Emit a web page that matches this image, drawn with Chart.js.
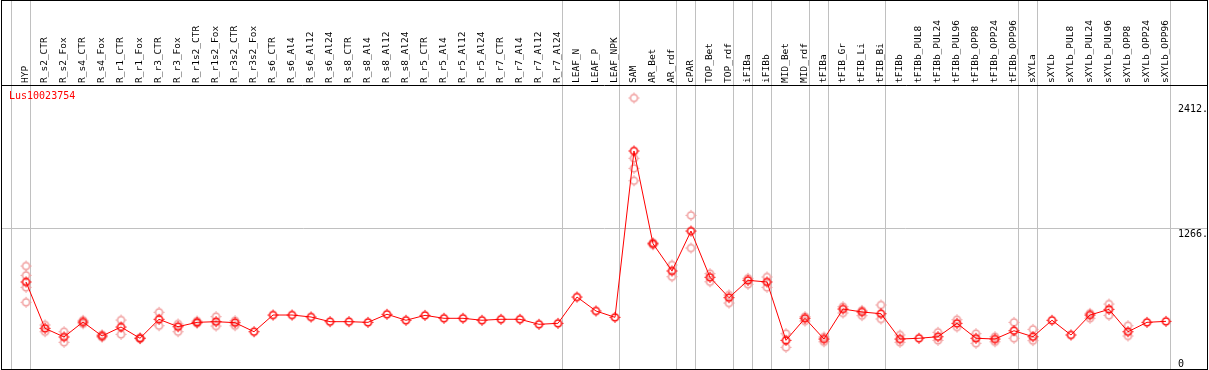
<!DOCTYPE html>
<html>
<head>
<meta charset="utf-8">
<script src="https://cdn.jsdelivr.net/npm/chart.js@4/dist/chart.umd.min.js"></script>
<style>
  html, body { margin: 0; padding: 0; background: #fff; }
  #wrap { width: 1209px; height: 370px; position: relative; }
</style>
</head>
<body>
<div id="wrap"><canvas id="chart"></canvas></div>
<script>
// Data
const geneName = "Lus10023754";

const categories = [
    "HYP",
    "R_s2_CTR", "R_s2_Fox", "R_s4_CTR", "R_s4_Fox", "R_r1_CTR", "R_r1_Fox", "R_r3_CTR", "R_r3_Fox",
    "R_r1s2_CTR", "R_r1s2_Fox", "R_r3s2_CTR", "R_r3s2_Fox",
    "R_s6_CTR", "R_s6_Al4", "R_s6_Al12", "R_s6_Al24", "R_s8_CTR", "R_s8_Al4", "R_s8_Al12", "R_s8_Al24",
    "R_r5_CTR", "R_r5_Al4", "R_r5_Al12", "R_r5_Al24", "R_r7_CTR", "R_r7_Al4", "R_r7_Al12", "R_r7_Al24",
    "LEAF_N", "LEAF_P", "LEAF_NPK",
    "SAM", "AR_Bet", "AR_rdf", "cPAR", "TOP_Bet", "TOP_rdf", "iFIBa", "iFIBb", "MID_Bet", "MID_rdf",
    "tFIBa", "tFIB_Gr", "tFIB_Li", "tFIB_Bi",
    "tFIBb", "tFIBb_PUL8", "tFIBb_PUL24", "tFIBb_PUL96", "tFIBb_OPP8", "tFIBb_OPP24", "tFIBb_OPP96",
    "sXYLa", "sXYLb", "sXYLb_PUL8", "sXYLb_PUL24", "sXYLb_PUL96", "sXYLb_OPP8", "sXYLb_OPP24", "sXYLb_OPP96"
];

// mean expression per sample
const means = [
    774,
    349, 270, 407, 279, 361, 258, 432, 364,
    404, 410, 401, 318,
    471, 471, 453, 410, 410, 404, 478, 423,
    468, 441, 441, 423, 432, 432, 386, 395,
    636, 508, 450,
    1975, 1125, 875, 1241, 817, 630, 789, 774, 239, 441,
    251, 526, 499, 483,
    251, 258, 272, 395, 258, 251, 327,
    272, 423, 288, 471, 523, 318, 404, 413
];

// individual replicates per sample
const replicates = [
    [920, 835, 725, 588],
    [380, 318], [318, 221], [423, 391], [290, 268], [425, 294], [262, 254], [496, 373], [389, 318],
    [416, 395], [456, 370], [419, 373], [],
    [], [], [], [], [], [], [], [],
    [], [], [], [], [], [], [], [],
    [], [], [],
    [2461, 1908, 1816, 1702], [1135, 1115], [930, 822], [1385, 1085], [850, 776], [655, 581],
    [808, 753], [820, 725], [300, 175], [456, 416],
    [270, 226], [547, 490], [514, 465], [563, 435],
    [288, 221], [], [313, 239], [428, 361], [300, 212], [272, 226], [404, 258],
    [340, 236], [], [], [487, 441], [572, 468], [373, 279], [], []
];

// y axis tick values and their labels
const yTicks = [0, 1266, 2412];
const yTickLabels = ["0", "1266.", "2412."];

// last sample index of each group (vertical separators)
const groupEnds = [-1, 0, 28, 31, 34, 35, 37, 38, 39, 41, 42, 45, 52, 53, 60];

// marker: circle with small ticks
const makeMarker = (color) => {
    const c = document.createElement("canvas");
    c.width = 13;
    c.height = 13;
    const g = c.getContext("2d");
    g.strokeStyle = color;
    g.lineWidth = 1.5;
    g.beginPath();
    g.arc(6.5, 6.5, 3.5, 0, Math.PI * 2);
    g.stroke();
    g.fillStyle = color;
    g.fillRect(6, 1, 1, 1);
    g.fillRect(6, 11, 1, 1);
    g.fillRect(1, 6, 1, 1);
    g.fillRect(11, 6, 1, 1);
    return c;
};
const meanMarker = makeMarker("#ff0000");
const repMarker = makeMarker("#f09a9a");

const framePlugin = {
    id: "frame",
    beforeDraw(chart) {
        const { ctx, chartArea, scales } = chart;
        ctx.save();
        ctx.fillStyle = "#fff";
        ctx.fillRect(0, 0, chart.width, chart.height);
        ctx.strokeStyle = "#c0c0c0";
        ctx.lineWidth = 1;
        groupEnds.forEach(i => {
            const x = Math.round(scales.x.getPixelForValue(i) + 4) + 0.5;
            ctx.beginPath();
            ctx.moveTo(x, 0);
            ctx.lineTo(x, chartArea.bottom);
            ctx.stroke();
        });
        ctx.restore();
    },
    afterDraw(chart) {
        const { ctx, chartArea, scales } = chart;
        ctx.save();
        ctx.strokeStyle = "#000";
        ctx.lineWidth = 1;
        ctx.strokeRect(1.5, 0.5, 1206, chart.height - 1);
        ctx.beginPath();
        ctx.moveTo(1, chartArea.top + 0.5);
        ctx.lineTo(1208, chartArea.top + 0.5);
        ctx.stroke();

        ctx.fillStyle = "#ff0000";
        ctx.font = "10px 'DejaVu Sans Mono'";
        ctx.textBaseline = "top";
        ctx.textAlign = "left";
        ctx.fillText(geneName, chartArea.left + 7, chartArea.top + 6);

        ctx.fillStyle = "#000";
        yTicks.forEach((v, i) => {
            let y = scales.y.getPixelForValue(v) + 1;
            y = Math.min(y, chartArea.bottom - 10);
            ctx.fillText(yTickLabels[i], chartArea.right - 29, y);
        });
        ctx.restore();
    }
};

const ctx = document.getElementById("chart").getContext("2d");

new Chart(ctx, {
    data: {
        datasets: [
            {
                type: "line",
                data: means.map((v, i) => ({ x: i, y: v })),
                borderColor: "#ff0000",
                borderWidth: 1,
                tension: 0,
                pointStyle: meanMarker,
                order: 0
            },
            {
                type: "scatter",
                data: replicates.flatMap((arr, i) => arr.map(v => ({ x: i, y: v }))),
                pointStyle: repMarker,
                showLine: false,
                order: 1
            }
        ]
    },
    options: {
        responsive: true,
        maintainAspectRatio: false,
        animation: false,
        layout: { autoPadding: false, padding: { left: 2, right: 2, top: 0, bottom: 1 } },
        plugins: {
            legend: { display: false },
            tooltip: { enabled: false }
        },
        scales: {
            x: {
                type: "linear",
                position: "top",
                min: -1.2632,
                max: 62.158,
                afterBuildTicks: (scale) => {
                    scale.ticks = categories.map((c, i) => ({ value: i }));
                },
                afterFit: (scale) => {
                    scale.height = 85;
                    scale.paddingLeft = 0;
                    scale.paddingRight = 0;
                },
                grid: { display: false, drawTicks: false },
                border: { display: false },
                ticks: {
                    autoSkip: false,
                    minRotation: 90,
                    maxRotation: 90,
                    padding: 2,
                    labelOffset: 11,
                    color: "#000",
                    font: { family: "DejaVu Sans Mono", size: 9.5 },
                    callback: (v) => categories[v]
                }
            },
            y: {
                type: "linear",
                position: "right",
                min: -23.8,
                max: 2579.8,
                afterBuildTicks: (scale) => {
                    scale.ticks = yTicks.map(v => ({ value: v }));
                },
                afterFit: (scale) => {
                    scale.width = 0;
                    scale.paddingTop = 0;
                    scale.paddingBottom = 0;
                },
                grid: {
                    drawTicks: false,
                    color: (c) => (c.tick && c.tick.value === 1266 ? "#c0c0c0" : "rgba(0,0,0,0)")
                },
                border: { display: false },
                ticks: { display: false }
            }
        }
    },
    plugins: [framePlugin]
});
</script>
</body>
</html>
